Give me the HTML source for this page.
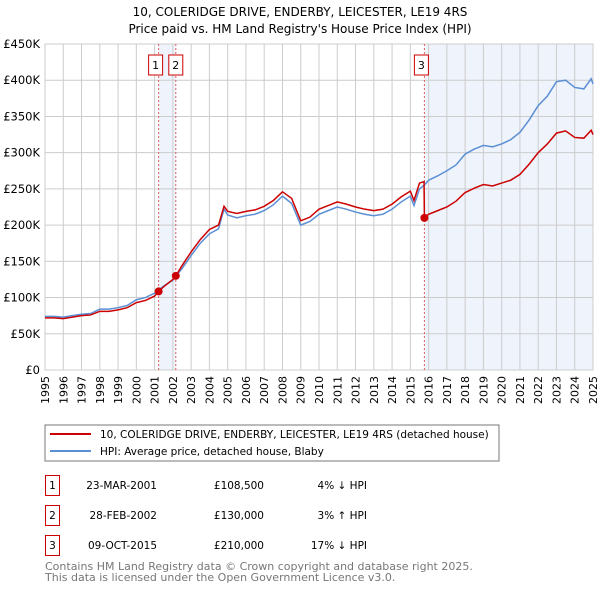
<!DOCTYPE html>
<html><head><meta charset="utf-8"><style>
body{margin:0;background:#fff;font-family:"DejaVu Sans","Liberation Sans",sans-serif;}
#wrap{position:relative;width:600px;height:590px;overflow:hidden;}
</style></head><body><div id="wrap">
<svg id="svg" width="600" height="590" xmlns="http://www.w3.org/2000/svg" font-family="DejaVu Sans, Liberation Sans, sans-serif">
<text x="300" y="16" text-anchor="middle" font-size="12">10, COLERIDGE DRIVE, ENDERBY, LEICESTER, LE19 4RS</text>
<text x="300" y="33" text-anchor="middle" font-size="12">Price paid vs. HM Land Registry's House Price Index (HPI)</text>
<g id="plot"></g>
<rect x="45" y="425" width="454" height="36" fill="none" stroke="#777"/>
<line x1="50" y1="434" x2="91" y2="434" stroke="#cc0000" stroke-width="2"/>
<text x="100" y="438" font-size="10.5">10, COLERIDGE DRIVE, ENDERBY, LEICESTER, LE19 4RS (detached house)</text>
<line x1="50" y1="451" x2="91" y2="451" stroke="#5b8fd4" stroke-width="2"/>
<text x="100" y="455" font-size="10.5">HPI: Average price, detached house, Blaby</text>
<g font-size="10.5">
<g>
<rect x="45.5" y="475.5" width="14" height="20" fill="none" stroke="#cc0000"/><text x="52.5" y="489" text-anchor="middle">1</text>
<text x="157" y="489" text-anchor="end">23-MAR-2001</text><text x="264" y="489" text-anchor="end">£108,500</text><text x="367" y="489" text-anchor="end">4% ↓ HPI</text></g>
<g>
<rect x="45.5" y="505.5" width="14" height="20" fill="none" stroke="#cc0000"/><text x="52.5" y="519" text-anchor="middle">2</text>
<text x="157" y="519" text-anchor="end">28-FEB-2002</text><text x="264" y="519" text-anchor="end">£130,000</text><text x="367" y="519" text-anchor="end">3% ↑ HPI</text></g>
<g>
<rect x="45.5" y="535.5" width="14" height="20" fill="none" stroke="#cc0000"/><text x="52.5" y="549" text-anchor="middle">3</text>
<text x="157" y="549" text-anchor="end">09-OCT-2015</text><text x="264" y="549" text-anchor="end">£210,000</text><text x="367" y="549" text-anchor="end">17% ↓ HPI</text></g>
</g>
<text x="45" y="570" font-size="11" fill="#777">Contains HM Land Registry data © Crown copyright and database right 2025.</text>
<text x="45" y="581" font-size="11" fill="#777">This data is licensed under the Open Government Licence v3.0.</text>
</svg></div>
<script>
const hpiDates=[1995,1995.5,1996,1996.5,1997,1997.5,1998,1998.5,1999,1999.5,2000,2000.5,2001,2001.5,2002,2002.5,2003,2003.5,2004,2004.5,2004.8,2005,2005.5,2006,2006.5,2007,2007.5,2008,2008.5,2009,2009.5,2010,2010.5,2011,2011.5,2012,2012.5,2013,2013.5,2014,2014.5,2015,2015.2,2015.5,2015.75,2016,2016.5,2017,2017.5,2018,2018.5,2019,2019.5,2020,2020.5,2021,2021.5,2022,2022.5,2023,2023.5,2024,2024.5,2024.9,2025];
const hpiValues=[74,74,73,75,77,78,84,84,86,89,97,100,106,116,124,140,158,175,188,195,222,214,210,213,215,220,228,240,230,200,205,215,220,225,222,218,215,213,215,222,232,240,227,250,255,262,268,275,283,298,305,310,308,312,318,328,345,365,378,398,400,390,388,402,395];
const redDates=[1995,1995.5,1996,1996.5,1997,1997.5,1998,1998.5,1999,1999.5,2000,2000.5,2001,2001.22,2001.5,2002,2002.16,2002.5,2003,2003.5,2004,2004.5,2004.8,2005,2005.5,2006,2006.5,2007,2007.5,2008,2008.5,2009,2009.5,2010,2010.5,2011,2011.5,2012,2012.5,2013,2013.5,2014,2014.5,2015,2015.2,2015.5,2015.75,2015.77,2016,2016.5,2017,2017.5,2018,2018.5,2019,2019.5,2020,2020.5,2021,2021.5,2022,2022.5,2023,2023.5,2024,2024.5,2024.9,2025];
const redValues=[72,72,71,73,75,76,81,81,83,86,93,96,102,108.5,115,125,130,144,163,180,194,200,226,219,216,219,221,226,234,246,237,206,211,222,227,232,229,225,222,220,222,229,239,247,234,258,260,210,215,220,225,233,245,251,256,254,258,262,270,284,300,312,327,330,321,320,331,325];
const saleDates=[2001.22,2002.16,2015.77];
const saleValues=[108.5,130,210];
const saleLabels=["1","2","3"];
const yTicks=[0,50,100,150,200,250,300,350,400,450];
const yTickLabels=["£0","£50K","£100K","£150K","£200K","£250K","£300K","£350K","£400K","£450K"];
const xYears=[1995,1996,1997,1998,1999,2000,2001,2002,2003,2004,2005,2006,2007,2008,2009,2010,2011,2012,2013,2014,2015,2016,2017,2018,2019,2020,2021,2022,2023,2024,2025];

const X0=45,X1=593,Y0=370,Y1=44;
const xs=d=>X0+(d-1995)/30*(X1-X0);
const ys=v=>Y0-v/450*(Y0-Y1);
const NS="http://www.w3.org/2000/svg";
const plot=document.getElementById('plot');
function mk(tag,attrs,parent){const e=document.createElementNS(NS,tag);for(const k in attrs)e.setAttribute(k,attrs[k]);(parent||plot).appendChild(e);return e;}

let e;
e=mk('rect',{x:xs(saleDates[0]),y:Y1,width:xs(saleDates[1])-xs(saleDates[0]),height:Y0-Y1,fill:'#eef3fc'});


e=mk('rect',{x:xs(saleDates[2]),y:Y1,width:X1-xs(saleDates[2]),height:Y0-Y1,fill:'#eef3fc'});



xYears.forEach(y=>{
  e=mk('line',{x1:xs(y),y1:Y1,x2:xs(y),y2:Y0,stroke:'#ccc','stroke-width':1});
  
  
  e=mk('text',{x:0,y:0,'font-size':11,'text-anchor':'end',transform:`translate(${xs(y)+4},376) rotate(-90)`});
  e.textContent=y;
  
  
});
yTicks.forEach((t,i)=>{
  e=mk('line',{x1:X0,y1:ys(t),x2:X1,y2:ys(t),stroke:'#ccc','stroke-width':1});
  
  
  e=mk('text',{x:40,y:ys(t)+4,'font-size':11.5,'text-anchor':'end'});
  e.textContent=yTickLabels[i];
  
  
});
e=mk('rect',{x:X0,y:Y1,width:X1-X0,height:Y0-Y1,fill:'none',stroke:'#ccc'});



saleDates.forEach((d,i)=>{
  e=mk('line',{x1:xs(d),y1:Y1,x2:xs(d),y2:Y0,stroke:'#e06060','stroke-dasharray':'2,2','stroke-width':1});
  
  
  const bx=i==0?xs(d)-10:(i==1?xs(d)-7:xs(d)-10);
  e=mk('rect',{x:bx,y:55,width:14,height:20,fill:'#fff',stroke:'#cc0000'});
  
  
  e=mk('text',{x:bx+7,y:69,'font-size':11,'text-anchor':'middle'});
  e.textContent=saleLabels[i];
  
  
});

e=mk('polyline',{points:hpiDates.map((d,i)=>xs(d)+','+ys(hpiValues[i])).join(' '),fill:'none',stroke:'#5b8fd4','stroke-width':1.5});


e=mk('polyline',{points:redDates.map((d,i)=>xs(d)+','+ys(redValues[i])).join(' '),fill:'none',stroke:'#cc0000','stroke-width':1.5});


saleDates.forEach((d,i)=>{
  e=mk('circle',{cx:xs(d),cy:ys(saleValues[i]),r:4,fill:'#cc0000'});
  
  
});
</script></body></html>
